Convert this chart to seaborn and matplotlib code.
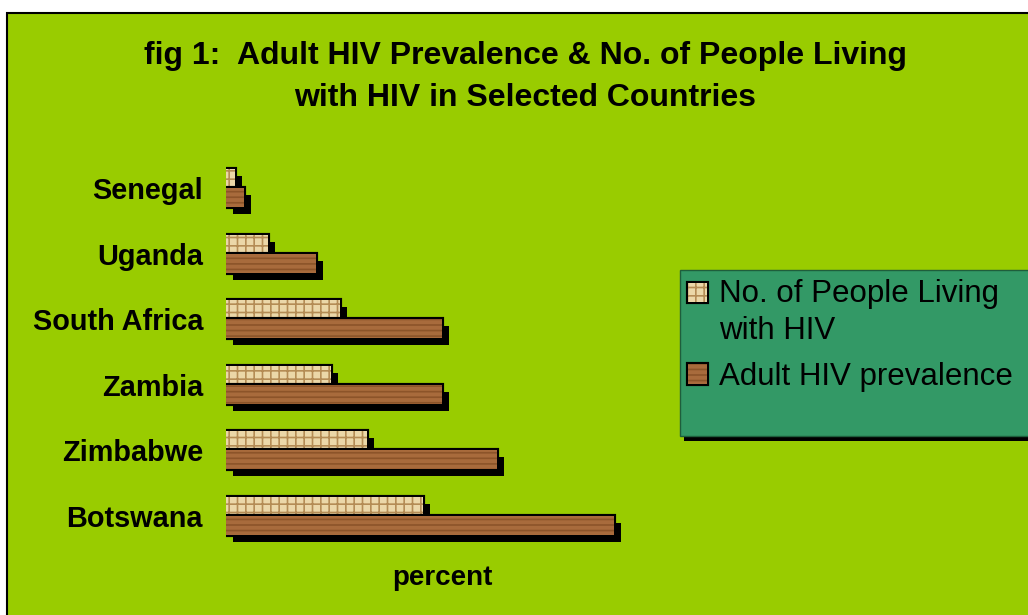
import matplotlib
matplotlib.use("Agg")
import matplotlib.pyplot as plt
import matplotlib.patheffects as pe
from matplotlib.patches import Rectangle
import seaborn as sns
import pandas as pd

countries = ["Senegal", "Uganda", "South Africa", "Zambia", "Zimbabwe", "Botswana"]
series = ["No. of People Living\nwith HIV", "Adult HIV prevalence"]
people_living = [0.9, 4.2, 11.4, 10.5, 14.1, 19.7]
adult_prevalence = [1.8, 9.0, 21.6, 21.6, 27.1, 38.8]

df = pd.DataFrame({
    "country": countries * 2,
    "series": [series[0]] * len(countries) + [series[1]] * len(countries),
    "value": people_living + adult_prevalence,
})

sns.set_style("white")
plt.rcParams["font.family"] = ["Liberation Sans", "DejaVu Sans"]
plt.rcParams["hatch.linewidth"] = 1.2
plt.rcParams["text.color"] = "black"

W, H = 1028, 615
fig = plt.figure(figsize=(W / 100, H / 100), dpi=100, facecolor="white")

bg = Rectangle((7 / W, -0.02), 1.05, 1 - 13 / H + 0.02, transform=fig.transFigure,
               facecolor="#99CC00", edgecolor="black", lw=1.5, zorder=-3)
fig.patches.append(bg)

legbox = Rectangle((680 / W, 1 - 436 / H), 350 / W, 166 / H, transform=fig.transFigure,
                   facecolor="#339966", edgecolor="#1E5E3C", lw=1, zorder=-2,
                   path_effects=[pe.SimplePatchShadow(offset=(3, -3.5), shadow_rgbFace="black", alpha=1),
                                 pe.Normal()])
fig.patches.append(legbox)

ax = fig.add_axes([226 / W, 1 - 548.8 / H, 440 / W, 393.6 / H])
ax.set_facecolor("none")

sns.barplot(data=df, y="country", x="value", hue="series", order=countries,
            hue_order=series, palette=["#EBD7A8", "#A86B3C"], width=0.58,
            orient="h", legend=False, saturation=1, ax=ax, errorbar=None)

fills = ["#EBD7A8", "#A86B3C"]
hatch_cols = ["#B48C55", "#8C5429"]
hatches = ["++", "---"]
for cont, fc, hc, ht in zip(ax.containers, fills, hatch_cols, hatches):
    for bar in cont:
        bar.set_facecolor(fc)
        bar.set_edgecolor(hc)
        bar.set_hatch(ht)
        bar.set_linewidth(0)
        bar.set_path_effects([
            pe.SimplePatchShadow(offset=(5, -5), shadow_rgbFace="black", alpha=1, hatch=None),
            pe.Stroke(linewidth=3, foreground="black"),
            pe.Normal(),
        ])

ax.set_xlim(0, 44)
ax.set_xticks([])
for s in ax.spines.values():
    s.set_visible(False)
ax.tick_params(axis="y", length=0, pad=16.5, labelsize=20.8, labelcolor="black")
for lab in ax.get_yticklabels():
    lab.set_fontweight("bold")
ax.set_ylabel("")
ax.set_xlabel("percent", fontsize=20, fontweight="bold", color="black")
ax.xaxis.set_label_coords(0.491, -0.04)

leg = ax.legend(handles=[ax.containers[0][0], ax.containers[1][0]], labels=series,
                loc="upper left", bbox_to_anchor=(688 / W, 1 - 279 / H),
                bbox_transform=fig.transFigure, frameon=False, fontsize=22.5,
                handlelength=0.6, handleheight=0.6, handletextpad=0.4,
                labelspacing=0.5, borderpad=0, borderaxespad=0, labelcolor="black")
for t in leg.get_texts():
    t.set_linespacing(1.32)
for h in leg.legend_handles:
    h.set_path_effects([pe.Stroke(linewidth=3, foreground="black"), pe.Normal()])
h0 = leg.legend_handles[0]
h0.set_y(h0.get_y() + 0.66 * 22.5)

fig.text(525 / W, 1 - 41 / H,
         "fig 1:  Adult HIV Prevalence & No. of People Living\nwith HIV in Selected Countries",
         ha="center", va="top", fontsize=23, fontweight="bold", linespacing=1.5, color="black")

fig.savefig("out.png", dpi=100, facecolor="white")
